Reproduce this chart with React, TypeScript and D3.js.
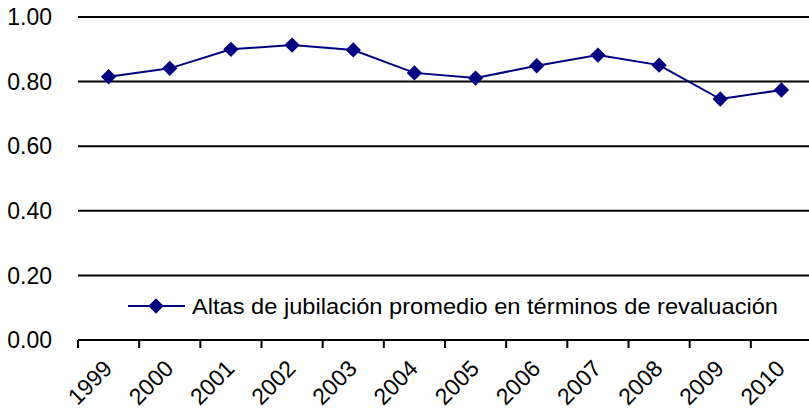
import * as d3 from "d3";
import React from "react";

const years = ["1999", "2000", "2001", "2002", "2003", "2004", "2005", "2006", "2007", "2008", "2009", "2010"];
const values = [0.815, 0.841, 0.9, 0.913, 0.898, 0.827, 0.811, 0.849, 0.882, 0.851, 0.746, 0.774];
const yTicks = [0, 0.2, 0.4, 0.6, 0.8, 1.0];
const legendLabel = "Altas de jubilación promedio en términos de revaluación";

const W = 809;
const H = 410;
const left = 78;
const right = 812;
const top = 17;
const bottom = 340;
const navy = "#000080";
const font = "Arial, 'Liberation Sans', sans-serif";

const App: React.FC = () => {
  const x = d3.scaleBand<string>().domain(years).range([left, right]);
  const y = d3.scaleLinear().domain([0, 1]).range([bottom, top]);
  const cx = (d: string) => x(d)! + x.bandwidth() / 2;
  const line = d3
    .line<number>()
    .x((_, i) => cx(years[i]))
    .y((v) => y(v));
  const diamond = d3.symbol().type(d3.symbolDiamond2).size(150)();

  return (
    <svg width={W} height={H} style={{ position: "absolute", left: 0, top: 0 }}>
      <rect width={W} height={H} fill="#fff" />
      {yTicks.map((t) => (
        <g key={t}>
          <line x1={left} x2={right} y1={y(t)} y2={y(t)} stroke="#000" strokeWidth={2} />
          <text x={52} y={y(t)} dy="0.36em" textAnchor="end" fontFamily={font} fontSize={23} fill="#000">
            {t.toFixed(2)}
          </text>
        </g>
      ))}
      {d3.range(years.length + 1).map((i) => {
        const tx = left + i * x.step();
        return <line key={i} x1={tx} x2={tx} y1={bottom} y2={bottom + 8} stroke="#000" strokeWidth={2} />;
      })}
      {years.map((yr) => (
        <text
          key={yr}
          transform={`translate(${cx(yr) + 5},${bottom + 30}) rotate(-45)`}
          textAnchor="end"
          fontFamily={font}
          fontSize={23}
          fill="#000"
        >
          {yr}
        </text>
      ))}
      <path d={line(values) ?? ""} fill="none" stroke={navy} strokeWidth={2} />
      {values.map((v, i) => (
        <path key={i} d={diamond ?? ""} transform={`translate(${cx(years[i])},${y(v)})`} fill={navy} />
      ))}
      <g>
        <line x1={128} x2={185} y1={306} y2={306} stroke={navy} strokeWidth={2} />
        <path d={diamond ?? ""} transform="translate(156,306)" fill={navy} />
        <text x={192} y={306} dy="0.36em" fontFamily={font} fontSize={22} fill="#000" textLength={586} lengthAdjust="spacingAndGlyphs">
          {legendLabel}
        </text>
      </g>
    </svg>
  );
};

export default App;
